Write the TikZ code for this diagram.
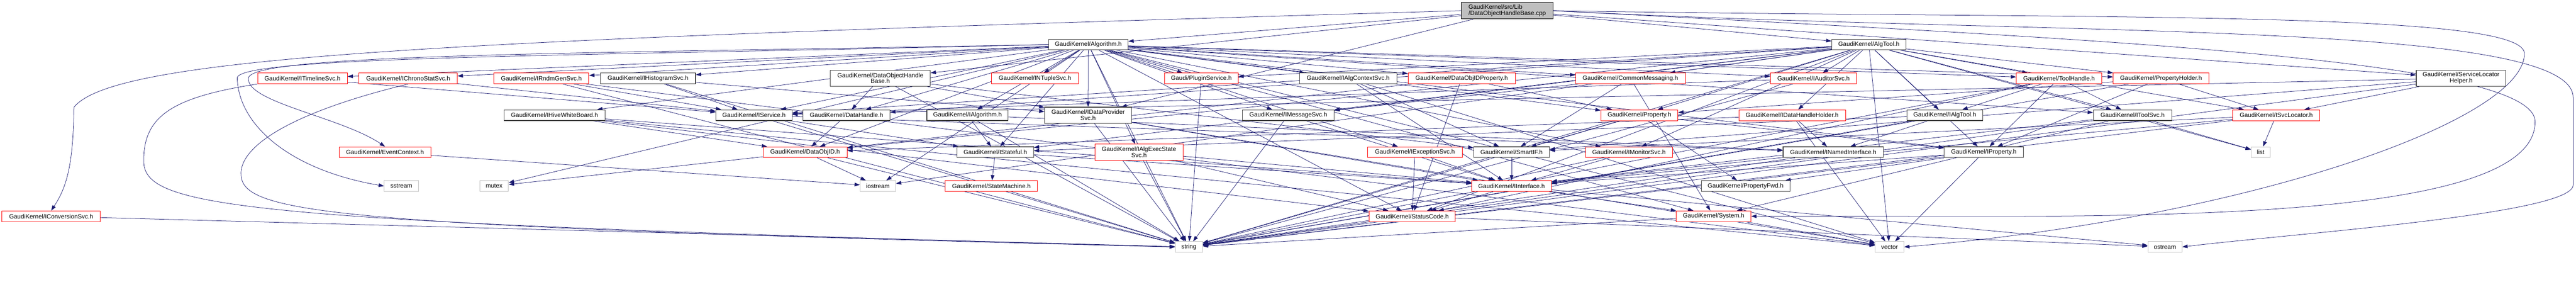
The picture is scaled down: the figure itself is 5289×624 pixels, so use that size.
\documentclass[tikz,border=0pt]{standalone}
\usepackage{fontspec}
\setmainfont{Liberation Sans}
\usetikzlibrary{arrows.meta,backgrounds}
\definecolor{edgeblue}{HTML}{191970}
\definecolor{sysgrey}{HTML}{BFBFBF}
\definecolor{truncred}{HTML}{FF0000}
\definecolor{hdrdark}{HTML}{404040}

\begin{document}
\begin{tikzpicture}[x=1pt, y=-1pt,
  every node/.append style={text=black, font=\fontsize{12.6pt}{12.5pt}\selectfont, inner sep=0pt, minimum height=22pt, fill=white, align=center},
  hdr/.style={draw=hdrdark, line width=1.2pt},
  trunc/.style={draw=truncred, line width=1pt},
  sys/.style={draw=sysgrey, line width=1pt},
  twoline/.style={minimum height=33pt},
  dep/.style={draw=edgeblue, line width=0.8pt, -{Triangle[length=11pt,width=7.5pt]}}]
	\useasboundingbox (0,0) rectangle (5289,624);

	% source file
	\node[draw=black, fill=sysgrey, line width=1pt, minimum width=189pt, minimum height=34pt, align=left] (root) at (3094.5,22) {GaudiKernel/src/Lib\\/DataObjectHandleBase.cpp};

	% rank 1
	\node[hdr, minimum width=163pt] (alg) at (2234.5,91.5) {GaudiKernel/Algorithm.h};
	\node[hdr, minimum width=152pt] (algtool) at (3837,91.5) {GaudiKernel/AlgTool.h};

	% rank 2
	\node[trunc, minimum width=184pt] (timeline) at (621,161) {GaudiKernel/ITimelineSvc.h};
	\node[trunc, minimum width=202pt] (chrono) at (838,161) {GaudiKernel/IChronoStatSvc.h};
	\node[trunc, minimum width=195pt] (rndm) at (1111.5,161) {GaudiKernel/IRndmGenSvc.h};
	\node[hdr, minimum width=195pt] (histo) at (1330.5,161) {GaudiKernel/IHistogramSvc.h};
	\node[hdr, twoline, minimum width=205pt] (dohb) at (1807.5,160.5) {GaudiKernel/DataObjectHandle\\Base.h};
	\node[trunc, minimum width=178pt] (ntuple) at (2125,161) {GaudiKernel/INTupleSvc.h};
	\node[trunc, minimum width=151pt] (plugin) at (2466.5,161) {Gaudi/PluginService.h};
	\node[hdr, minimum width=200pt] (algctx) at (2768,161) {GaudiKernel/IAlgContextSvc.h};
	\node[trunc, minimum width=220pt] (doidprop) at (3001,161) {GaudiKernel/DataObjIDProperty.h};
	\node[trunc, minimum width=225pt] (common) at (3347.5,161) {GaudiKernel/CommonMessaging.h};
	\node[trunc, minimum width=177pt] (auditor) at (3723.5,161) {GaudiKernel/IAuditorSvc.h};
	\node[trunc, minimum width=175pt] (toolh) at (4227.5,161) {GaudiKernel/ToolHandle.h};
	\node[trunc, minimum width=196pt] (propholder) at (4437,161) {GaudiKernel/PropertyHolder.h};
	\node[hdr, twoline, minimum width=184pt] (slh) at (5053,160.5) {GaudiKernel/ServiceLocator\\Helper.h};

	% rank 3
	\node[hdr, minimum width=207pt] (hive) at (1138.5,236.5) {GaudiKernel/IHiveWhiteBoard.h};
	\node[hdr, minimum width=156pt] (iservice) at (1548,236.5) {GaudiKernel/IService.h};
	\node[hdr, minimum width=178pt] (dhandle) at (1738,236.5) {GaudiKernel/DataHandle.h};
	\node[hdr, minimum width=167pt] (ialg) at (1986.5,236.5) {GaudiKernel/IAlgorithm.h};
	\node[hdr, twoline, minimum width=178pt] (idps) at (2234,236.5) {GaudiKernel/IDataProvider\\Svc.h};
	\node[hdr, minimum width=188pt] (imsg) at (2645,236.5) {GaudiKernel/IMessageSvc.h};
	\node[trunc, minimum width=158pt] (prop) at (3366,236.5) {GaudiKernel/Property.h};
	\node[trunc, minimum width=219pt] (idhh) at (3679.5,236.5) {GaudiKernel/IDataHandleHolder.h};
	\node[hdr, minimum width=156pt] (ialgtool) at (3993,236.5) {GaudiKernel/IAlgTool.h};
	\node[hdr, minimum width=161pt] (itoolsvc) at (4378.5,236.5) {GaudiKernel/IToolSvc.h};
	\node[trunc, minimum width=179pt] (isvcloc) at (4673.5,236.5) {GaudiKernel/ISvcLocator.h};

	% rank 4
	\node[trunc, minimum width=189pt] (evctx) at (790.5,312.5) {GaudiKernel/EventContext.h};
	\node[trunc, minimum width=172pt] (doid) at (1653,312.5) {GaudiKernel/DataObjID.h};
	\node[hdr, minimum width=157pt] (istateful) at (2043.5,312.5) {GaudiKernel/IStateful.h};
	\node[trunc, twoline, minimum width=181pt] (iaes) at (2338.5,312.5) {GaudiKernel/IAlgExecState\\Svc.h};
	\node[trunc, minimum width=194pt] (iexc) at (2905,312.5) {GaudiKernel/IExceptionSvc.h};
	\node[hdr, minimum width=155pt] (smartif) at (3103.5,312.5) {GaudiKernel/SmartIF.h};
	\node[trunc, minimum width=179pt] (imon) at (3344.5,312.5) {GaudiKernel/IMonitorSvc.h};
	\node[hdr, minimum width=206pt] (inamed) at (3764,312.5) {GaudiKernel/INamedInterface.h};
	\node[hdr, minimum width=162pt] (iprop) at (4073,312.5) {GaudiKernel/IProperty.h};
	\node[sys, minimum width=39pt] (list) at (4641.5,312.5) {list};

	% rank 5
	\node[sys, minimum width=70pt] (sstream) at (824,382) {sstream};
	\node[sys, minimum width=59pt] (mutex) at (1014.5,382) {mutex};
	\node[sys, minimum width=73pt] (iostream) at (1802.5,382) {iostream};
	\node[trunc, minimum width=189pt] (statem) at (2035.5,382) {GaudiKernel/StateMachine.h};
	\node[trunc, minimum width=163pt] (iiface) at (3103.5,382) {GaudiKernel/IInterface.h};
	\node[hdr, minimum width=182pt] (propfwd) at (3584,382) {GaudiKernel/PropertyFwd.h};

	% rank 6
	\node[trunc, minimum width=202pt] (iconv) at (105,444) {GaudiKernel/IConversionSvc.h};
	\node[trunc, minimum width=177pt] (status) at (2899.5,444) {GaudiKernel/StatusCode.h};
	\node[trunc, minimum width=153pt] (system) at (3518.5,444) {GaudiKernel/System.h};

	% rank 7
	\node[sys, minimum width=56pt] (string) at (2441,507) {string};
	\node[sys, minimum width=59pt] (vector) at (3879.5,507) {vector};
	\node[sys, minimum width=70pt] (ostream) at (4445,507) {ostream};

	\begin{scope}[on background layer]
	% includes of the source file
	\foreach \t in {alg,algtool,dohb,idps,slh} \draw[dep] (root) -- (\t);
	\draw[dep] (root.west) .. controls (1000,80) and (240,110) .. (152,220) .. controls (150,330) and (140,380) .. (iconv.north);
	\draw[dep] (root.east) .. controls (4200,75) and (5283,40) .. (5283,200) -- (5283,380) .. controls (5283,440) and (4700,480) .. (ostream.east);
	\draw[dep] (root.east) .. controls (4300,40) and (5183,20) .. (5183,110) .. controls (5183,250) and (4600,450) .. (vector.east);
	\draw[dep] (root.east) .. controls (4300,80) and (5205,120) .. (5205,250) .. controls (5205,480) and (4200,440) .. (system.east);

	% Algorithm.h
	\foreach \t in {timeline,chrono,rndm,histo,ntuple,plugin,algctx,doidprop,common,auditor,toolh,propholder,hive,iservice,dhandle,ialg,idps,imsg,prop,itoolsvc,doid,iaes,iexc,imon,istateful,iprop,mutex,iostream,status,system,string,vector}
		\draw[dep] (alg) -- (\t);
	\draw[dep] (alg.west) .. controls (1200,110) and (520,110) .. (510,160) .. controls (505,210) and (700,240) .. (evctx.north);
	\draw[dep] (alg.west) .. controls (1200,115) and (490,115) .. (487,160) .. controls (490,260) and (600,350) .. (sstream.west);

	% AlgTool.h
	\foreach \t in {auditor,ialgtool,idhh,imon,iprop,iservice,isvcloc,itoolsvc,propholder,toolh,plugin,common,doid,dhandle,imsg,prop,istateful,list,vector,string,status,iostream}
		\draw[dep] (algtool) -- (\t);

	% rank 2
	\draw[dep] (timeline.south west) .. controls (350,200) and (295,240) .. (295,330) .. controls (295,430) and (500,455) .. (string.west);
	\draw[dep] (timeline) -- (iservice);
	\draw[dep] (chrono.south) .. controls (600,230) and (490,300) .. (495,360) .. controls (500,440) and (700,465) .. (string.west);
	\draw[dep] (chrono) -- (iservice);
	\foreach \t in {iservice,string,vector} \draw[dep] (rndm) -- (\t);
	\foreach \t in {iservice,idps,string} \draw[dep] (histo) -- (\t);
	\foreach \t in {dhandle,idps,smartif,string} \draw[dep] (dohb) -- (\t);
	\draw[dep] (plugin) -- (string);
	\foreach \t in {iiface,smartif,vector} \draw[dep] (algctx) -- (\t);
	\foreach \t in {doid,prop,status} \draw[dep] (doidprop) -- (\t);
	\foreach \t in {imsg,smartif,system} \draw[dep] (common) -- (\t);
	\foreach \t in {iservice,string} \draw[dep] (auditor) -- (\t);
	\foreach \t in {ialgtool,itoolsvc,iprop,string,status} \draw[dep] (toolh) -- (\t);
	\foreach \t in {iprop,prop,isvcloc,string} \draw[dep] (propholder) -- (\t);
	\foreach \t in {isvcloc,iservice,smartif,string} \draw[dep] (slh) -- (\t);

	% rank 3
	\foreach \t in {iiface,doid,status,vector} \draw[dep] (hive) -- (\t);
	\foreach \t in {istateful,inamed,string} \draw[dep] (iservice) -- (\t);
	\draw[dep] (dhandle) -- (doid);
	\foreach \t in {istateful,inamed,string} \draw[dep] (ialg) -- (\t);
	\foreach \t in {iiface,string,vector} \draw[dep] (idps) -- (\t);
	\foreach \t in {iiface,string} \draw[dep] (imsg) -- (\t);
	\foreach \t in {propfwd,iprop,smartif,string} \draw[dep] (prop) -- (\t);
	\foreach \t in {inamed,doid,vector} \draw[dep] (idhh) -- (\t);
	\foreach \t in {inamed,istateful,string} \draw[dep] (ialgtool) -- (\t);
	\foreach \t in {iiface,list,string,system} \draw[dep] (itoolsvc) -- (\t);
	\foreach \t in {list,iiface,smartif,string} \draw[dep] (isvcloc) -- (\t);

	% rank 4
	\draw[dep] (evctx) -- (iostream);
	\foreach \t in {iostream,mutex,string} \draw[dep] (doid) -- (\t);
	\foreach \t in {statem,iiface} \draw[dep] (istateful) -- (\t);
	\foreach \t in {iiface,status,string} \draw[dep] (iaes) -- (\t);
	\foreach \t in {iiface,status} \draw[dep] (iexc) -- (\t);
	\draw[dep] (smartif) -- (iiface);
	\foreach \t in {iiface,string} \draw[dep] (imon) -- (\t);
	\foreach \t in {iiface,string} \draw[dep] (inamed) -- (\t);
	\foreach \t in {iiface,propfwd,string,vector} \draw[dep] (iprop) -- (\t);

	% rank 5 and 6
	\foreach \t in {system,status,ostream} \draw[dep] (iiface) -- (\t);
	\draw[dep] (status) -- (ostream);
	\foreach \t in {vector,string} \draw[dep] (system) -- (\t);
	\draw[dep] (iconv) -- (string);
	\end{scope}
\end{tikzpicture}
\end{document}
